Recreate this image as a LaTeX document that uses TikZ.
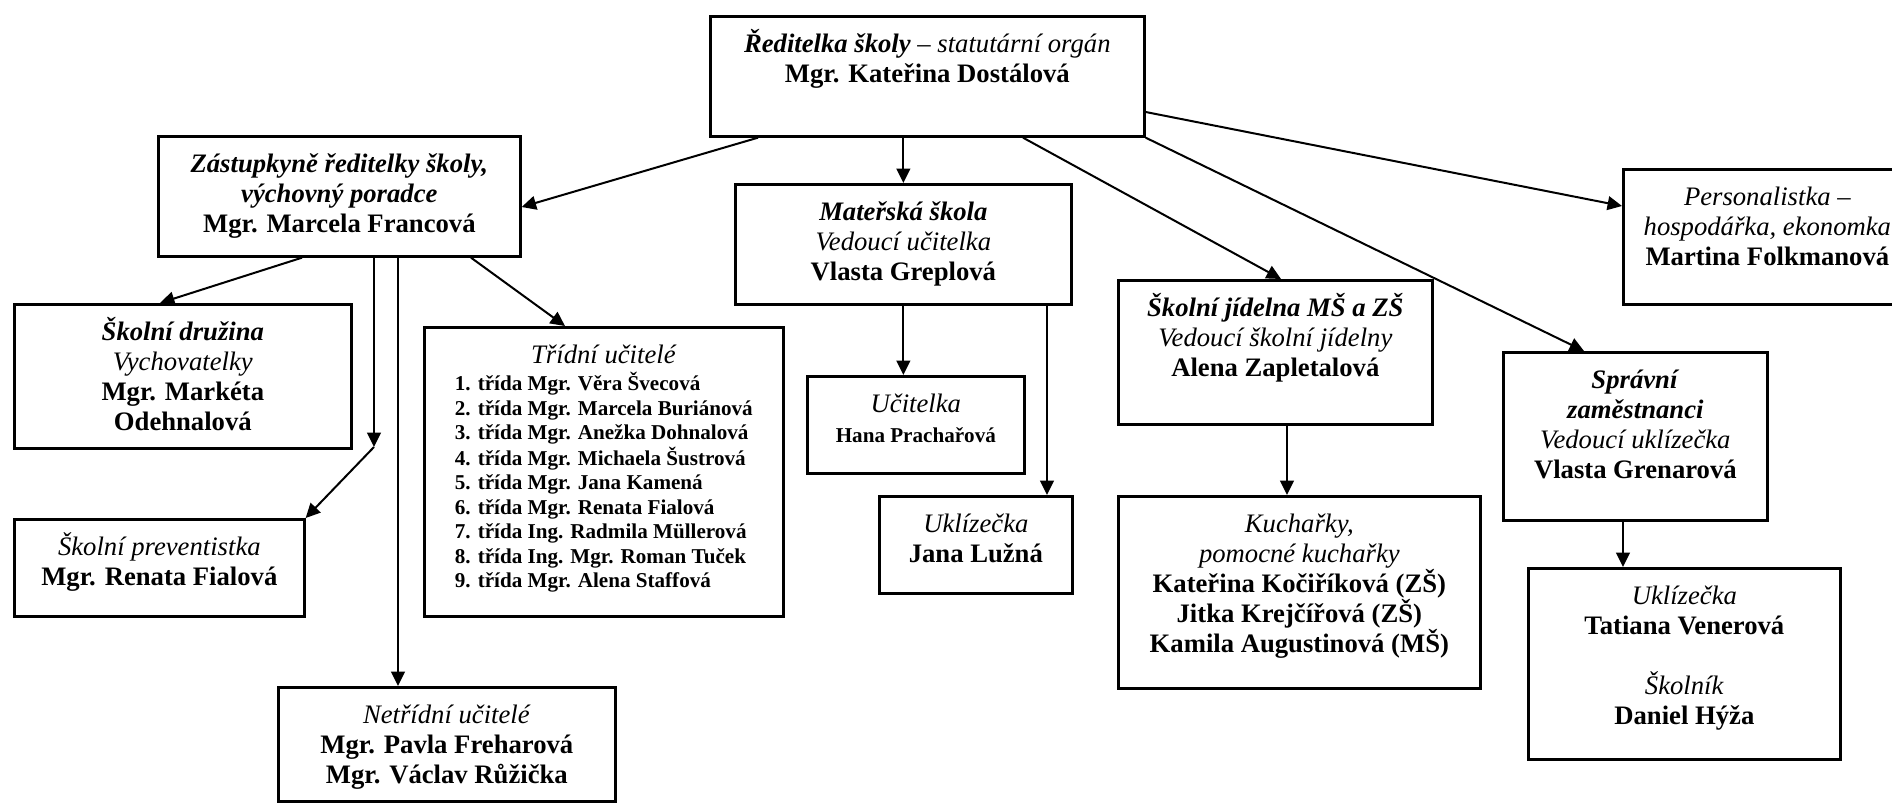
\documentclass[tikz,border=0pt]{standalone}
\usepackage{fontspec}
\setmainfont{Liberation Serif}
\usetikzlibrary{arrows.meta}
\newdimen\pxl \pxl=0.45pt
\newcommand\listfont{\fontsize{9.5}{11}\selectfont\bfseries}
\tikzset{
    box/.style 2 args = {draw=black, line width=1.2pt, inner sep=0pt, anchor=north west,
        font=\fontsize{12}{13.5}\selectfont,
        execute at begin node={\begin{minipage}[c][#2\pxl][t]{#1\pxl}\centering\hbox{}\vspace{2.7pt}},
        execute at end node={\end{minipage}}},
    conn/.style = {-{Triangle[length=6.5pt,width=6.2pt]}, line width=0.9pt}
}
\begin{document}
\begin{tikzpicture}[x=0.45pt, y=-0.45pt]
        \useasboundingbox (0,0) rectangle (1892,802);
        \clip (0,0) rectangle (1892,802);

        %% Vedeni
        \node[box={434}{120}]  (dir)  at (709,15)   {\textbf{\textit{Ředitelka školy}} \textit{– statutární orgán}\\ \textbf{Mgr. Kateřina Dostálová}};
        \node[box={362}{120}]  (zast) at (157,135)  {\textbf{\textit{Zástupkyně ředitelky školy,}}\\ \textbf{\textit{výchovný poradce}}\\ \textbf{Mgr. Marcela Francová}};
        \node[box={288}{135}]  (pers) at (1622,168) {\textit{Personalistka –}\\ \textit{hospodářka, ekonomka}\\ \textbf{Martina Folkmanová}};

        %% Zakladni skola
        \node[box={337}{144}]  (druz) at (13,303)   {\textbf{\textit{Školní družina}}\\ \textit{Vychovatelky}\\ \textbf{Mgr. Markéta}\\ \textbf{Odehnalová}};
        \node[box={290}{97}]   (prev) at (13,518)   {\textit{Školní preventistka}\\ \textbf{Mgr. Renata Fialová}};
        \node[box={359}{289}]  (trid) at (423,326)  {\textit{Třídní učitelé}\\[3pt]
            {\listfont\begin{tabular}{@{}l@{}}
                1. třída Mgr. Věra Švecová\\
                2. třída Mgr. Marcela Buriánová\\
                3. třída Mgr. Anežka Dohnalová\\
                4. třída Mgr. Michaela Šustrová\\
                5. třída Mgr. Jana Kamená\\
                6. třída Mgr. Renata Fialová\\
                7. třída Ing. Radmila Müllerová\\
                8. třída Ing. Mgr. Roman Tuček\\
                9. třída Mgr. Alena Staffová
            \end{tabular}}};
        \node[box={337}{114}]  (net)  at (277,686)  {\textit{Netřídní učitelé}\\ \textbf{Mgr. Pavla Freharová}\\ \textbf{Mgr. Václav Růžička}};
        \coordinate (split) at (374,447);

        %% Materska skola
        \node[box={336}{120}]  (ms)   at (734,183)  {\textbf{\textit{Mateřská škola}}\\ \textit{Vedoucí učitelka}\\ \textbf{Vlasta Greplová}};
        \node[box={217}{97}]   (uci)  at (806,375)  {\textit{Učitelka}\\ {\listfont Hana Prachařová}};
        \node[box={193}{97}]   (ukl)  at (878,495)  {\textit{Uklízečka}\\ \textbf{Jana Lužná}};

        %% Jidelna
        \node[box={314}{144}]  (jid)  at (1117,279) {\textbf{\textit{Školní jídelna MŠ a ZŠ}}\\ \textit{Vedoucí školní jídelny}\\ \textbf{Alena Zapletalová}};
        \node[box={362}{192}]  (kuch) at (1117,495) {\textit{Kuchařky,}\\ \textit{pomocné kuchařky}\\ \textbf{Kateřina Kočiříková (ZŠ)}\\ \textbf{Jitka Krejčířová (ZŠ)}\\ \textbf{Kamila Augustinová (MŠ)}};

        %% Spravni zamestnanci
        \node[box={264}{168}]  (spr)  at (1502,351) {\textbf{\textit{Správní}}\\ \textbf{\textit{zaměstnanci}}\\ \textit{Vedoucí uklízečka}\\ \textbf{Vlasta Grenarová}};
        \node[box={312}{191}]  (tat)  at (1527,567) {\textit{Uklízečka}\\ \textbf{Tatiana Venerová}\\[13.5pt] \textit{Školník}\\ \textbf{Daniel Hýža}};

        \path   [conn]
                (dir.south -| 758,0)   edge (zast.east |- 0,207)
                (dir.south -| ms.north) edge (ms.north)
                (dir.south -| 1023,0)  edge (jid.north -| 1281,0)
                (dir.south east)       edge (spr.north -| 1584,0)
                (dir.east |- 0,112)    edge (pers.west |- 0,206);

        \path   [conn]
                (zast.south -| 302,0)  edge (druz.north -| 160,0)
                (zast.south -| split)  edge (split)
                (split)                edge (prev.north east)
                (zast.south -| 398,0)  edge (net.north -| 398,0)
                (zast.south -| 471,0)  edge (trid.north -| 565,0);

        \path   [conn]
                (ms.south)             edge (uci.north -| ms.south)
                (ms.south -| 1047,0)   edge (ukl.north -| 1047,0)
                (jid.south -| 1287,0)  edge (kuch.north -| 1287,0)
                (spr.south -| 1623,0)  edge (tat.north -| 1623,0);
\end{tikzpicture}
\end{document}
